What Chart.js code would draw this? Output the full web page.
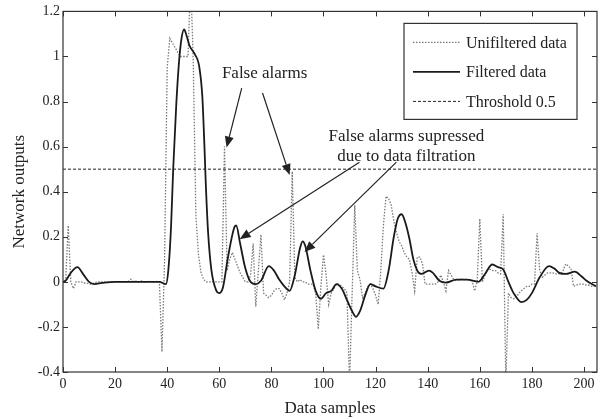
<!DOCTYPE html>
<html><head><meta charset="utf-8">
<script src="https://cdn.jsdelivr.net/npm/chart.js@4.4.0/dist/chart.umd.min.js"></script>
<style>html,body{margin:0;padding:0;background:#fff}#wrap{width:600px;height:419px;position:relative}</style>
</head><body><div id="wrap"><canvas id="c" width="600" height="419"></canvas></div>
<script>
// ---- Data ----
// Unfiltered network output, one value per data sample (0..204)
const unfiltered = [
  0, 0, 0.25, 0, -0.03, 0, 0, 0, -0.005, -0.005,
  -0.01, -0.01, -0.005, 0, 0, 0, 0, 0, 0, 0,
  0, 0, 0, 0, 0, 0, 0.012, 0.002, 0.003, 0,
  0.004, 0, 0, 0.003, 0, 0, 0.002, 0, -0.31, 0.1,
  0.95, 1.08, 1.06, 1.04, 1.02, 1.0, 1.0, 1.0, 1.0, 1.35,
  0.98, 0.3, 0.12, 0.04, 0.01, 0, 0, 0, 0, 0,
  0, 0, 0.6, 0.05, 0.1, 0.13, 0.1, 0.07, 0.04, 0.02,
  0, 0, 0.03, 0.17, -0.11, 0.05, 0.21, -0.05, -0.06, -0.07,
  -0.06, -0.04, -0.03, -0.03, -0.05, -0.08, -0.05, 0, 0.49, 0.02,
  0, 0.01, 0, 0, -0.01, -0.01, -0.01, -0.05, -0.21, -0.02,
  0.12, 0.03, -0.1, -0.05, -0.03, -0.01, -0.01, -0.02, -0.03, -0.05,
  -0.45, -0.05, 0.34, 0.05, 0.01, -0.07, -0.05, -0.02, -0.01, -0.03,
  -0.06, -0.1, 0.05, 0.25, 0.38, 0.37, 0.34, 0.27, 0.22, 0.18,
  0.16, 0.13, 0.11, 0.1, 0.04, -0.04, 0.11, 0.11, 0.08, -0.01,
  -0.01, -0.01, -0.01, -0.01, 0, 0.03, 0, -0.04, 0.05, 0.03,
  0.01, 0.005, 0.01, 0.012, 0.01, 0.01, 0.01, 0.01, -0.04, 0,
  0.28, 0, 0.03, 0.055, 0.055, 0.05, 0.05, 0.04, 0.035, 0.3,
  -0.45, -0.05, -0.07, -0.075, -0.07, -0.05, -0.04, -0.03, -0.02, -0.02,
  -0.01, -0.01, 0.215, 0.05, 0.02, 0.03, 0.04, 0.04, 0.04, 0.035,
  0.035, 0.035, 0.05, 0.08, 0.07, 0.06, -0.02, -0.015, -0.01, -0.01,
  -0.01, -0.015, -0.015, -0.02, -0.02
];
// Filtered network output, read at key sample positions
const filtX = [0, 1, 3, 5.5, 8, 10, 12, 15, 20, 30, 37, 39.5, 40.5, 41.5, 42.3, 43.5, 44.5, 45.5, 46.5, 47.5, 48.5, 50.6, 52.3, 53.5, 54.3, 54.8, 55.7, 57, 58.9, 59.9, 61.4, 63.3, 65.9, 66.5, 68, 70, 72, 74, 76, 79, 81, 83, 85, 87, 89, 91, 92, 93, 95, 97, 99, 101, 103, 105, 107, 109, 111, 112.5, 114, 116, 118, 120, 123, 125, 127, 128.5, 130, 131.5, 133, 134.5, 136, 137.5, 140.5, 142, 144.5, 147, 151, 155, 159.5, 162, 164.8, 167, 169, 171, 173, 176, 178, 180, 183, 186.6, 188.5, 190.5, 193, 196.5, 199, 201, 204.6];
const filtY = [0, 0.005, 0.04, 0.065, 0.03, 0, -0.01, -0.005, 0, 0, 0, -0.01, 0.06, 0.25, 0.5, 0.79, 0.97, 1.08, 1.12, 1.09, 1.05, 1.01, 0.955, 0.82, 0.6, 0.44, 0.22, 0.05, -0.04, -0.05, -0.025, 0.107, 0.245, 0.25, 0.17, 0.06, 0, -0.01, 0.005, 0.07, 0.05, 0.01, -0.02, -0.04, 0.03, 0.15, 0.18, 0.16, 0.05, -0.04, -0.075, -0.05, -0.04, -0.01, -0.03, -0.08, -0.13, -0.155, -0.13, -0.06, -0.01, -0.02, -0.03, 0.05, 0.2, 0.28, 0.3, 0.26, 0.19, 0.1, 0.05, 0.035, 0.05, 0.04, 0.005, -0.003, 0.01, 0.01, 0, 0.035, 0.077, 0.065, 0.055, 0, -0.05, -0.09, -0.08, -0.05, 0.02, 0.07, 0.06, 0.04, 0.035, 0.045, 0.025, 0.005, -0.02];
const threshold = 0.5;
const thresholdX = [0, 205];
const xTicks = [0, 20, 40, 60, 80, 100, 120, 140, 160, 180, 200];
const yTicks = [-0.4, -0.2, 0, 0.2, 0.4, 0.6, 0.8, 1, 1.2];
const yTickLabels = ['-0.4', '-0.2', '0', '0.2', '0.4', '0.6', '0.8', '1', '1.2'];
const seriesLabels = ['Unifiltered data', 'Filtered data', 'Throshold 0.5'];
// annotations in data coordinates
const annotTexts = [
  {text: 'False alarms', x: 77.4, y: 0.925},
  {text: 'False alarms supressed', x: 131.8, y: 0.645},
  {text: 'due to data filtration', x: 131.8, y: 0.556}
];
const annotArrows = [
  {from: [68.6, 0.86], to: [62.8, 0.596]},
  {from: [76.6, 0.838], to: [87.0, 0.474]},
  {from: [113.8, 0.531], to: [67.8, 0.189]},
  {from: [128.0, 0.531], to: [92.7, 0.132]}
];

const FONT = '"Liberation Serif", "Times New Roman", Times, serif';
const TEXT = '#222';

const framePlugin = {
  id: 'frame',
  afterDatasetsDraw(chart) {
    const {ctx, chartArea: a, scales: {x, y}} = chart;
    ctx.save();
    ctx.fillStyle = TEXT;
    ctx.font = '17px ' + FONT;
    ctx.textAlign = 'center';
    ctx.textBaseline = 'middle';
    annotTexts.forEach(t => ctx.fillText(t.text, x.getPixelForValue(t.x), y.getPixelForValue(t.y)));
    ctx.strokeStyle = TEXT;
    ctx.lineWidth = 1.2;
    annotArrows.forEach(ar => {
      const x0 = x.getPixelForValue(ar.from[0]), y0 = y.getPixelForValue(ar.from[1]);
      const x1 = x.getPixelForValue(ar.to[0]), y1 = y.getPixelForValue(ar.to[1]);
      const ang = Math.atan2(y1 - y0, x1 - x0);
      const L = 11, W = 4.5;
      const bx = x1 - L * Math.cos(ang), by = y1 - L * Math.sin(ang);
      ctx.beginPath(); ctx.moveTo(x0, y0); ctx.lineTo(bx, by); ctx.stroke();
      ctx.beginPath();
      ctx.moveTo(x1, y1);
      ctx.lineTo(bx + W * Math.sin(ang), by - W * Math.cos(ang));
      ctx.lineTo(bx - W * Math.sin(ang), by + W * Math.cos(ang));
      ctx.closePath(); ctx.fill();
    });
    ctx.restore();
  },
  afterDraw(chart) {
    const {ctx, chartArea: a, scales: {x, y}} = chart;
    ctx.save();
    ctx.strokeStyle = '#333';
    ctx.lineWidth = 1.2;
    ctx.strokeRect(a.left, a.top, a.right - a.left, a.bottom - a.top);
    const tl = 5;
    ctx.beginPath();
    xTicks.forEach(v => {
      const px = Math.round(x.getPixelForValue(v)) + 0.5;
      ctx.moveTo(px, a.bottom); ctx.lineTo(px, a.bottom - tl);
      ctx.moveTo(px, a.top); ctx.lineTo(px, a.top + tl);
    });
    yTicks.forEach(v => {
      const py = Math.round(y.getPixelForValue(v)) + 0.5;
      ctx.moveTo(a.left, py); ctx.lineTo(a.left + tl, py);
      ctx.moveTo(a.right, py); ctx.lineTo(a.right - tl, py);
    });
    ctx.lineWidth = 1;
    ctx.stroke();
    // legend
    const bx = a.right - 193, by = a.top + 12, bw = 173, bh = 96;
    ctx.fillStyle = '#fff';
    ctx.fillRect(bx, by, bw, bh);
    ctx.strokeStyle = '#333';
    ctx.lineWidth = 1.2;
    ctx.strokeRect(bx, by, bw, bh);
    ctx.font = '16px ' + FONT;
    ctx.textAlign = 'left';
    ctx.textBaseline = 'middle';
    chart.data.datasets.forEach((ds, i) => {
      const ly = by + 19 + i * 29.5;
      ctx.save();
      ctx.strokeStyle = ds.borderColor;
      ctx.lineWidth = ds.borderWidth;
      ctx.setLineDash(ds.borderDash || []);
      ctx.beginPath(); ctx.moveTo(bx + 9, ly); ctx.lineTo(bx + 56, ly); ctx.stroke();
      ctx.restore();
      ctx.fillStyle = TEXT;
      ctx.fillText(ds.label, bx + 62, ly + 1);
    });
    ctx.restore();
  }
};

new Chart(document.getElementById('c').getContext('2d'), {
  type: 'line',
  data: {
    datasets: [
      {label: seriesLabels[0], data: unfiltered.map((v, i) => ({x: i, y: v})),
       borderColor: '#7a7a7a', borderWidth: 1.3, borderDash: [1.5, 1.5], pointRadius: 0, tension: 0, order: 2},
      {label: seriesLabels[1], data: filtX.map((v, i) => ({x: v, y: filtY[i]})),
       borderColor: '#1a1a1a', borderWidth: 1.8, pointRadius: 0, cubicInterpolationMode: 'monotone', order: 0},
      {label: seriesLabels[2], data: thresholdX.map(v => ({x: v, y: threshold})),
       borderColor: '#222', borderWidth: 1, borderDash: [3, 2], pointRadius: 0, order: 1}
    ]
  },
  options: {
    responsive: false, animation: false, devicePixelRatio: 1,
    layout: {padding: {top: 7, right: 3, left: 0, bottom: 0}},
    plugins: {legend: {display: false}, tooltip: {enabled: false}},
    scales: {
      x: {
        type: 'linear', min: 0, max: 205,
        afterBuildTicks: s => { s.ticks = xTicks.map(v => ({value: v})); },
        afterFit: s => { s.height = 47; },
        grid: {display: false, drawTicks: false}, border: {display: false},
        ticks: {font: {family: FONT, size: 14}, color: TEXT, padding: 4, maxRotation: 0, autoSkip: false},
        title: {display: true, text: 'Data samples', font: {family: FONT, size: 17}, color: TEXT, padding: {top: 2, bottom: 0}}
      },
      y: {
        type: 'linear', min: -0.4, max: 1.2,
        afterBuildTicks: s => { s.ticks = yTicks.map(v => ({value: v})); },
        afterFit: s => { s.width = 63; },
        grid: {display: false, drawTicks: false}, border: {display: false},
        ticks: {font: {family: FONT, size: 14}, color: TEXT, padding: 3, autoSkip: false,
                callback: (v, i) => yTickLabels[i]},
        title: {display: true, text: 'Network outputs', font: {family: FONT, size: 17}, color: TEXT, padding: {top: 9, bottom: 0}}
      }
    }
  },
  plugins: [framePlugin]
});
</script>
</body></html>
